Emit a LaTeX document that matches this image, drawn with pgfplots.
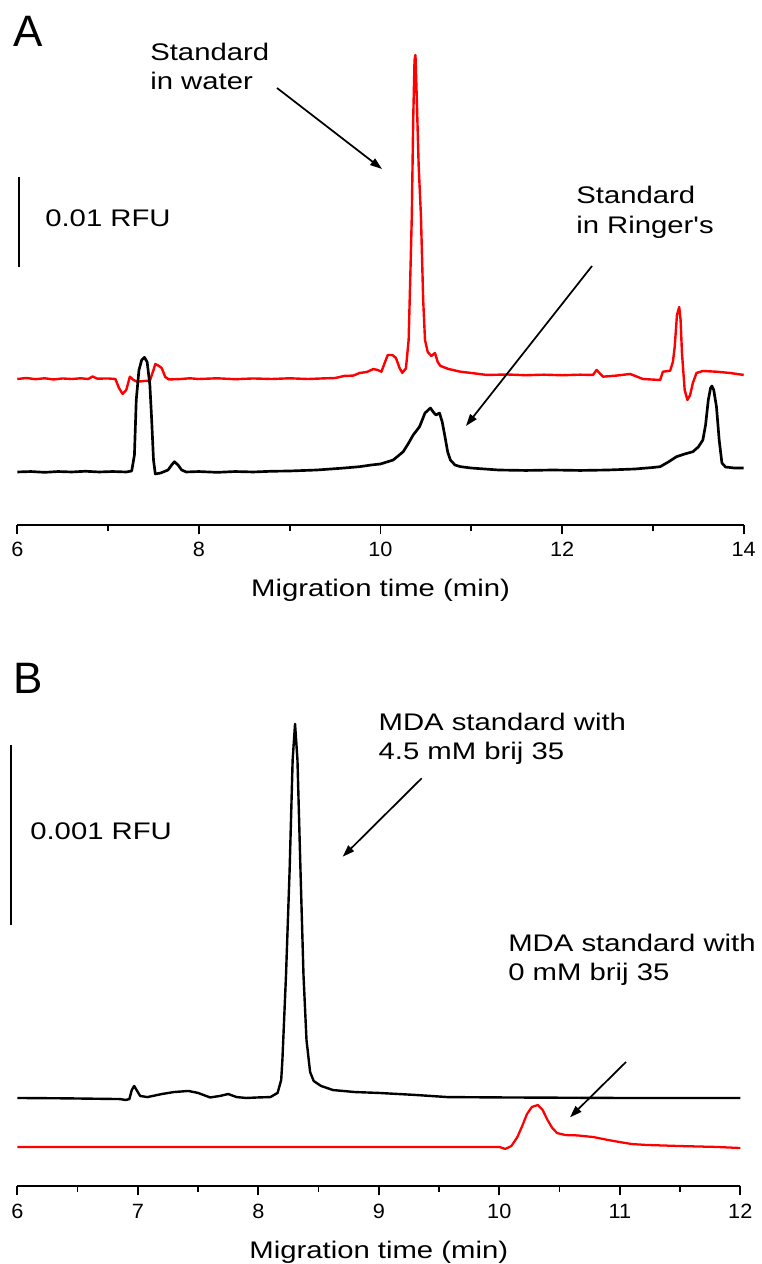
\documentclass[border=0pt]{standalone}
\usepackage{pgfplots}
\pgfplotsset{compat=1.18}
\usepackage{fontspec}
\setmainfont{Liberation Sans}
% same face without the TeX quote mapping, for a straight apostrophe
\newfontfamily\straightq{Liberation Sans}
\usetikzlibrary{arrows.meta}

% Electropherogram traces, signal in mRFU (traces offset for stacking)
\pgfplotstableread{
t y
6.00 16.22
6.10 16.33
6.20 16.20
6.30 16.30
6.40 16.17
6.50 16.28
6.60 16.22
6.70 16.30
6.78 16.22
6.83 16.50
6.88 16.26
7.00 16.28
7.08 16.22
7.12 15.22
7.16 14.56
7.20 15.00
7.24 16.48
7.28 16.11
7.32 15.92
7.40 16.00
7.46 16.04
7.50 17.22
7.52 17.89
7.56 17.67
7.59 17.44
7.63 16.44
7.67 16.17
7.80 16.22
7.90 16.30
8.00 16.22
8.20 16.30
8.40 16.20
8.60 16.28
8.80 16.22
9.00 16.30
9.20 16.22
9.40 16.30
9.50 16.33
9.60 16.56
9.70 16.60
9.77 16.89
9.85 17.00
9.92 17.33
9.97 17.22
10.01 17.03
10.05 18.11
10.08 18.89
10.13 18.89
10.17 18.56
10.21 17.44
10.24 16.90
10.28 17.40
10.31 20.56
10.33 28.33
10.345 34.44
10.36 45.00
10.375 51.67
10.385 52.22
10.40 47.22
10.42 40.00
10.445 34.44
10.47 25.00
10.49 20.56
10.52 19.22
10.56 18.78
10.60 19.11
10.63 18.11
10.66 17.67
10.75 17.33
10.88 17.03
11.00 16.89
11.17 16.67
11.40 16.72
11.60 16.64
11.80 16.70
12.00 16.64
12.20 16.70
12.34 16.67
12.38 17.22
12.45 16.48
12.60 16.60
12.75 16.78
12.89 16.22
13.08 16.11
13.11 17.03
13.19 17.14
13.22 18.11
13.24 19.78
13.265 23.33
13.29 24.22
13.305 22.78
13.32 19.11
13.35 15.00
13.38 13.89
13.41 14.44
13.44 15.78
13.48 16.89
13.55 17.11
13.70 17.03
13.85 16.89
14.00 16.67
}\waterA

\pgfplotstableread{
t y
6.00 5.89
6.15 5.94
6.30 5.85
6.45 5.94
6.60 5.89
6.75 5.97
6.90 5.89
7.05 5.94
7.20 5.89
7.26 6.00
7.29 7.78
7.31 13.89
7.34 17.22
7.37 18.33
7.40 18.63
7.43 18.11
7.46 15.56
7.48 11.67
7.50 7.22
7.52 5.67
7.58 5.78
7.66 6.11
7.70 6.67
7.73 7.03
7.77 6.67
7.81 6.11
7.86 5.89
8.00 5.94
8.20 5.85
8.40 5.94
8.60 5.89
8.80 5.97
9.00 6.00
9.30 6.11
9.60 6.33
9.77 6.48
9.90 6.67
10.00 6.78
10.14 7.22
10.25 8.14
10.31 9.11
10.36 10.00
10.43 10.92
10.49 12.44
10.55 13.00
10.58 12.56
10.61 12.22
10.65 12.44
10.68 11.44
10.71 9.81
10.74 8.11
10.77 7.22
10.82 6.67
10.88 6.48
11.00 6.33
11.30 6.11
11.60 6.06
11.90 6.11
12.20 6.06
12.50 6.11
12.80 6.22
13.00 6.39
13.08 6.48
13.17 7.00
13.26 7.59
13.35 7.89
13.44 8.14
13.50 8.67
13.55 9.44
13.58 11.11
13.61 13.89
13.635 15.22
13.65 15.44
13.67 15.00
13.70 13.14
13.73 9.44
13.76 6.89
13.80 6.44
13.90 6.33
14.00 6.33
}\ringerA

\pgfplotstableread{
t y
6.00 0.489
6.40 0.487
6.85 0.483
6.90 0.478
6.93 0.483
6.95 0.533
6.97 0.556
6.99 0.533
7.02 0.500
7.08 0.494
7.20 0.511
7.30 0.522
7.42 0.528
7.50 0.517
7.60 0.492
7.68 0.500
7.75 0.511
7.82 0.494
7.90 0.489
8.00 0.492
8.10 0.494
8.16 0.517
8.19 0.589
8.20 0.700
8.23 1.172
8.26 1.756
8.285 2.367
8.305 2.567
8.325 2.367
8.35 1.756
8.375 1.172
8.40 0.811
8.43 0.633
8.46 0.583
8.52 0.556
8.62 0.533
8.80 0.522
9.00 0.517
9.30 0.506
9.57 0.494
10.00 0.492
11.00 0.489
12.00 0.489
}\brijB

\pgfplotstableread{
t y
6.00 0.217
7.00 0.217
8.00 0.217
9.00 0.217
10.00 0.217
10.05 0.206
10.10 0.222
10.15 0.272
10.19 0.333
10.23 0.400
10.27 0.439
10.32 0.450
10.36 0.422
10.40 0.367
10.44 0.322
10.48 0.294
10.55 0.283
10.65 0.281
10.78 0.272
10.90 0.256
11.00 0.244
11.10 0.233
11.22 0.228
11.50 0.222
11.80 0.217
12.00 0.211
}\nobrijB

\pgfplotsset{
  chrom/.style={
    scale only axis,
    axis x line*=bottom,
    hide y axis,
    xtick pos=bottom,
    tick align=outside,
    major tick length=7pt,
    minor tick length=4.3pt,
    every tick/.append style={black, line width=1.3pt},
    axis line style={line width=1.3pt},
    tick label style={font=\fontsize{15.5}{17}\selectfont, xscale=1.05},
    xticklabel style={anchor=base, yshift=-17pt},
    /pgf/number format/assume math mode=true,
    every axis x label/.style={at={(axis description cs:0.5,0)}, anchor=base,
      yshift=-54pt, font=\fontsize{18}{22}\selectfont, xscale=1.22},
    clip=false,
  },
}
\tikzset{
  lab/.style={anchor=base west, inner sep=0pt, font=\fontsize{18}{22}\selectfont, xscale=1.22},
  arr/.style={line width=1.3pt, -{Triangle[length=9pt,width=6pt]}},
}

\begin{document}
\begin{tikzpicture}
\useasboundingbox (0,0) rectangle (570.75pt,948pt);

% Panel A
\begin{axis}[chrom, at={(12.975pt,554.25pt)}, anchor=south west,
  width=544.8pt, height=393.75pt,
  xmin=6, xmax=14, ymin=0, ymax=58.33,
  xtick={6,8,...,14}, minor xtick={7,9,11,13},
  xlabel={Migration time (min)}]
  \addplot[red, line width=1.8pt, line join=round] table[x=t, y=y] {\waterA};
  \addplot[black, line width=2pt, line join=round] table[x=t, y=y] {\ringerA};
  % 10 mRFU scale bar
  \draw[line width=1pt] (axis cs:6.019,28.67) -- (axis cs:6.019,38.67);
\end{axis}

% Panel B
\begin{axis}[chrom, at={(12.975pt,58.5pt)}, anchor=south west,
  width=542.25pt, height=409.5pt,
  xmin=6, xmax=12, ymin=0, ymax=3.0333,
  xtick={6,...,12}, minor x tick num=1,
  xlabel={Migration time (min)}]
  \addplot[red, line width=1.7pt, line join=round] table[x=t, y=y] {\nobrijB};
  \addplot[black, line width=1.8pt, line join=round] table[x=t, y=y] {\brijB};
  % 1 mRFU scale bar
  \draw[line width=1pt] (axis cs:5.948,1.45) -- (axis cs:5.948,2.45);
\end{axis}

% Annotations (units of 0.75pt, measured from the top edge)
\begin{scope}[x=0.75pt, y=-0.75pt, yshift=948pt]
  \node[anchor=base west, inner sep=0pt, font=\fontsize{33}{36}\selectfont] at (13,47) {A};
  \node[lab] at (150,60.7) {Standard};
  \node[lab] at (150,90) {in water};
  \draw[arr] (277,88) -- (382,169);
  \node[lab] at (45,226.7) {0.01 RFU};
  \node[lab] at (576,204) {Standard};
  \node[lab] at (576,233.3) {in Ringer{\straightq'}s};
  \draw[arr] (592,266) -- (466,426);

  \node[anchor=base west, inner sep=0pt, font=\fontsize{33}{36}\selectfont] at (13,693.3) {B};
  \node[lab] at (30,839.3) {0.001 RFU};
  \node[lab] at (378.3,730.7) {MDA standard with};
  \node[lab] at (378.3,759.3) {4.5 mM brij 35};
  \draw[arr] (421.7,778.3) -- (342.7,856.7);
  \node[lab] at (508,952) {MDA standard with};
  \node[lab] at (508,981) {0 mM brij 35};
  \draw[arr] (626,1062) -- (570,1117.3);
\end{scope}
\end{tikzpicture}
\end{document}
